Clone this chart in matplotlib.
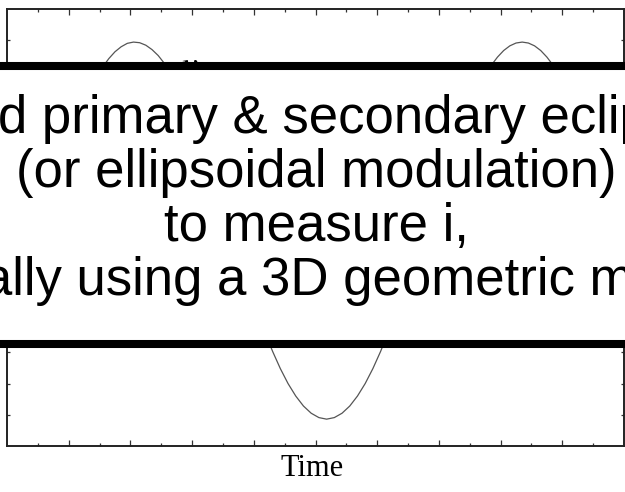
import matplotlib.pyplot as plt
from matplotlib.patches import Rectangle

# velocity curve (time in tick units, velocity in tick units)
time = [2.9, 3.1, 3.3, 3.5, 3.7, 3.9, 4.1, 4.3, 4.5, 4.7, 4.9, 5.1, 5.3, 5.5,
        8.36, 8.61, 8.86, 9.11, 9.36, 9.61, 9.86, 10.11, 10.36, 10.61, 10.86,
        11.11, 11.36, 11.61, 11.86, 12.11, 12.36,
        15.5, 15.7, 15.9, 16.1, 16.3, 16.5, 16.7, 16.9, 17.1, 17.3, 17.5, 17.7, 17.9]
velocity = [4.82, 5.14, 5.41, 5.63, 5.79, 5.90, 5.94, 5.92, 5.84, 5.70, 5.51, 5.26, 4.95, 4.60,
            -3.36, -3.97, -4.52, -5.00, -5.40, -5.72, -5.95, -6.09, -6.14, -6.09, -5.95,
            -5.72, -5.40, -5.00, -4.52, -3.97, -3.36,
            4.88, 5.20, 5.46, 5.67, 5.82, 5.91, 5.94, 5.91, 5.82, 5.67, 5.46, 5.20, 4.88]

lines = ["Need primary & secondary eclipses",
         "(or ellipsoidal modulation)",
         "to measure i,",
         "usually using a 3D geometric model"]

W, H = 625, 492

fig = plt.figure(figsize=(W / 100, H / 100), dpi=100)
ax = fig.add_axes([7 / W, 1 - 446 / H, 617 / W, 437 / H])

ax.plot(time, velocity, color='#555555', lw=0.9)
ax.text(5.63, 4.85, r'$v_1$', fontsize=26, va='baseline', ha='left',
        math_fontfamily='stix')

ax.set_xlim(0, 20)
ax.set_ylim(-7, 7)
ax.set_xticks(range(2, 20, 2))
ax.set_xticks(range(1, 20, 2), minor=True)
ax.set_yticks(range(-6, 7))
ax.tick_params(which='both', direction='in', top=True, right=True,
               labelbottom=False, labelleft=False, color='#333333', width=0.9)
ax.tick_params(which='major', axis='x', length=4.5)
ax.tick_params(which='minor', axis='x', length=2.3)
ax.tick_params(axis='y', length=2.5)
for s in ax.spines.values():
    s.set_linewidth(1.4)
    s.set_color('#222222')

fig.text(0.5, 1 - 468 / H, 'Time', family='Liberation Serif', fontsize=22,
         ha='center', va='center')

# overlaid slide box, wider than the picture
box = Rectangle((-0.1, 1 - 344 / H), 1.2, 278 / H, transform=fig.transFigure,
                facecolor='white', edgecolor='black', lw=5.8, zorder=10)
fig.add_artist(box)

baselines = [133, 187, 241, 295]
for s, y in zip(lines, baselines):
    fig.text(316 / W, 1 - y / H, s, family='Liberation Sans', fontsize=38,
             ha='center', va='baseline', zorder=11)

fig.savefig('out.png', dpi=100)
